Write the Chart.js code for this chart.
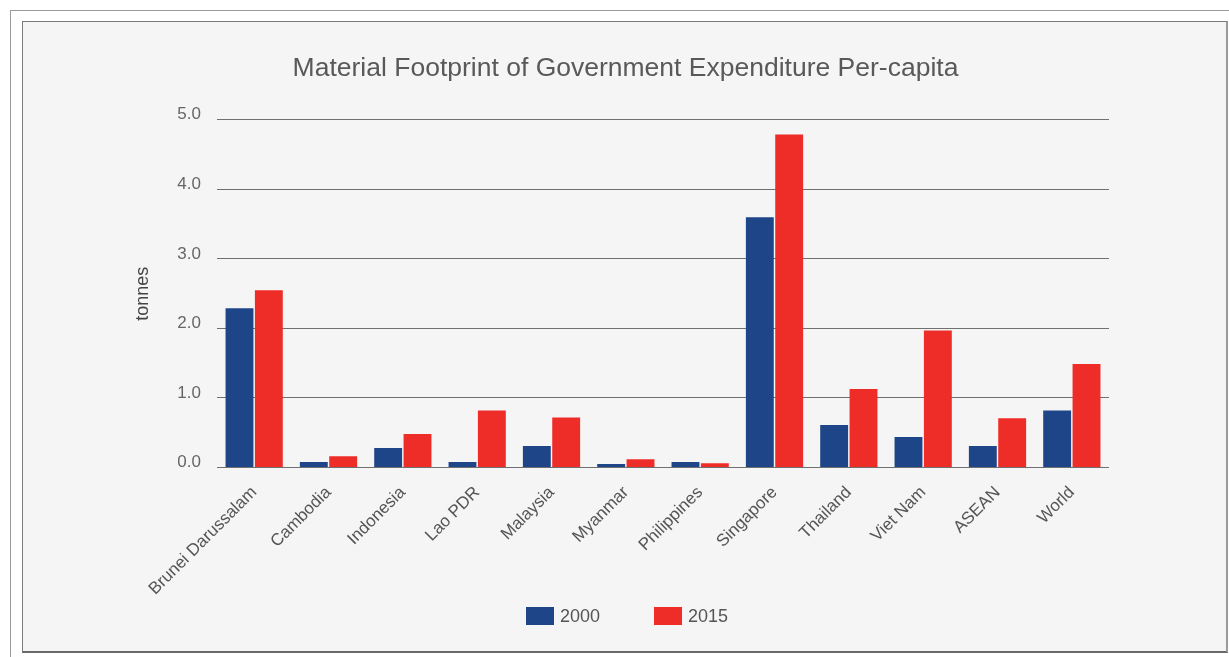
<!DOCTYPE html>
<html>
<head>
<meta charset="utf-8">
<title>Material Footprint of Government Expenditure Per-capita</title>
<script src="https://cdn.jsdelivr.net/npm/chart.js@4/dist/chart.umd.min.js"></script>
<style>
	html, body { margin: 0; padding: 0; background: #fff; overflow: hidden; }
	.frame {
		position: absolute; left: 10px; top: 10px; width: 1300px; height: 700px;
		border-top: 1px solid #9a9a9a; border-left: 1px solid #9a9a9a;
	}
	.panel {
		position: absolute; left: 22px; top: 21px; width: 1203px; height: 629px;
		background: #f5f5f5;
		border-top: 1px solid #7a7a7a; border-left: 1px solid #7a7a7a;
		border-right: 2px solid #9a9a9a; border-bottom: 2px solid #6a6a6a;
	}
	.panel canvas { position: absolute; left: 0; top: 0; }
	#legend {
		position: absolute; left: 503px; top: 585px;
		display: flex; gap: 54px;
		font-family: "Liberation Sans", Arial, Helvetica, sans-serif;
		font-size: 18px; color: #555;
	}
	#legend .item { display: flex; align-items: center; height: 18px; }
	#legend .swatch { width: 28px; height: 18px; margin-right: 6px; }
</style>
</head>
<body>
<div class="frame"></div>
<div class="panel">
	<canvas id="footprintChart" width="1203" height="629"></canvas>
	<div id="legend"></div>
</div>
<script>
(function () {
	'use strict';

	var categories = ['Brunei Darussalam', 'Cambodia', 'Indonesia', 'Lao PDR', 'Malaysia', 'Myanmar',
		'Philippines', 'Singapore', 'Thailand', 'Viet Nam', 'ASEAN', 'World'];
	var values2000 = [2.29, 0.08, 0.28, 0.08, 0.31, 0.05, 0.08, 3.60, 0.61, 0.44, 0.31, 0.82];
	var values2015 = [2.55, 0.16, 0.48, 0.82, 0.72, 0.12, 0.06, 4.79, 1.13, 1.97, 0.71, 1.49];
	var yTicks = [0, 1, 2, 3, 4, 5];

	var fontFamily = '"Liberation Sans", Arial, Helvetica, sans-serif';

	// legend as plain HTML so the gap between the two entries can be set freely
	var htmlLegend = {
		id: 'htmlLegend',
		afterUpdate: function (chart) {
			var container = document.getElementById('legend');
			container.innerHTML = '';
			var items = chart.options.plugins.legend.labels.generateLabels(chart);
			items.forEach(function (item) {
				var row = document.createElement('div');
				row.className = 'item';
				var swatch = document.createElement('span');
				swatch.className = 'swatch';
				swatch.style.background = item.fillStyle;
				var text = document.createElement('span');
				text.textContent = item.text;
				row.appendChild(swatch);
				row.appendChild(text);
				container.appendChild(row);
			});
		},
	};

	var canvas = document.getElementById('footprintChart');

	new Chart(canvas, {
		type: 'bar',
		data: {
			labels: categories,
			datasets: [
				{
					label: '2000',
					data: values2000,
					backgroundColor: '#1f4589',
					borderWidth: 0,
					categoryPercentage: 0.79,
					barPercentage: 0.95,
				},
				{
					label: '2015',
					data: values2015,
					backgroundColor: '#ee2d29',
					borderWidth: 0,
					categoryPercentage: 0.79,
					barPercentage: 0.95,
				},
			],
		},
		plugins: [htmlLegend],
		options: {
			responsive: false,
			animation: false,
			layout: {
				padding: { top: 10, left: 119, right: 117, bottom: 40 },
			},
			plugins: {
				title: {
					display: true,
					text: 'Material Footprint of Government Expenditure Per-capita',
					color: '#595959',
					font: { family: fontFamily, size: 26.5, weight: 'normal' },
					padding: { top: 21, bottom: 35 },
				},
				legend: { display: false },
				tooltip: { enabled: false },
			},
			scales: {
				y: {
					min: 0,
					max: 5,
					afterBuildTicks: function (scale) {
						scale.ticks = yTicks.map(function (v) { return { value: v }; });
					},
					afterFit: function (scale) {
						scale.width = 75;
					},
					ticks: {
						padding: 16,
						labelOffset: -5,
						color: '#666',
						font: { family: fontFamily, size: 17 },
						callback: function (v) { return v.toFixed(1); },
					},
					grid: {
						color: '#707070',
						lineWidth: 1,
						drawTicks: false,
					},
					border: { display: false },
					title: {
						display: true,
						text: 'tonnes',
						color: '#444',
						padding: { top: -10, bottom: 0 },
						font: { family: fontFamily, size: 18 },
					},
				},
				x: {
					afterFit: function (scale) {
						scale.height = 143.5;
					},
					ticks: {
						minRotation: 45,
						maxRotation: 45,
						padding: 7,
						color: '#555',
						font: { family: fontFamily, size: 17 },
					},
					grid: { display: false },
					border: { display: false },
				},
			},
		},
	});
})();
</script>
</body>
</html>
